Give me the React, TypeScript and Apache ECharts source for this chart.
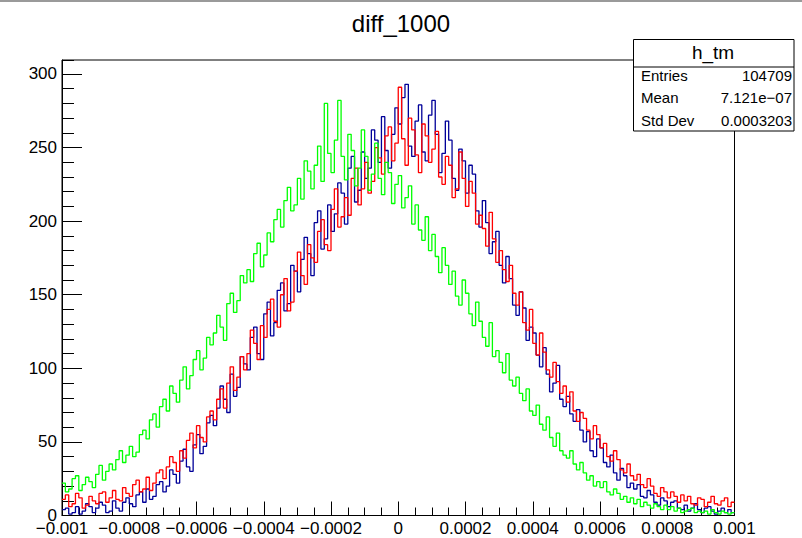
import React, { useEffect, useRef } from "react";
import * as echarts from "echarts";

// ---- binning / axis values ----
const xMin = -0.001;
const xMax = 0.001;
const binWidth = 0.00001;
const xTickStep = 0.0002;
const yMin = 0;
const yMax = 309.5;
const yTickStep = 50;
const yMinorStep = 10;

const histTitle = "diff_1000";
const statsName = "h_tm";
const statsLabels = ["Entries", "Mean", "Std Dev"];
const statsValues = ["104709", "7.121e\u221207", "0.0003203"];

// ---- bin contents (200 bins, left to right) ----
const blueCounts = [
  4, 5, 1, 2, 6, 1, 3, 8, 6, 2,
  5, 9, 7, 2, 3, 10, 5, 3, 9, 12,
  8, 6, 14, 16, 9, 18, 11, 13, 21, 23,
  16, 20, 31, 28, 22, 37, 45, 33, 30, 48,
  55, 42, 47, 63, 68, 61, 73, 88, 79, 70,
  96, 81, 87, 108, 103, 99, 121, 128, 110, 106,
  137, 145, 122, 131, 153, 158, 139, 144, 170, 166,
  152, 174, 189, 178, 163, 199, 207, 181, 188, 211,
  193, 205, 226, 219, 198, 236, 244, 213, 221, 247,
  229, 236, 262, 255, 240, 271, 248, 236, 259, 277,
  266, 284, 293, 251, 244, 268, 279, 247, 241, 272,
  282, 259, 233, 246, 268, 255, 229, 221, 249, 241,
  219, 238, 232, 207, 196, 214, 199, 178, 186, 193,
  170, 158, 176, 161, 143, 136, 152, 141, 119, 128,
  124, 109, 101, 114, 96, 84, 90, 102, 79, 74,
  81, 69, 64, 72, 58, 50, 57, 44, 40, 52,
  46, 36, 33, 41, 29, 24, 32, 27, 19, 22,
  18, 21, 13, 12, 17, 14, 9, 7, 12, 10,
  6, 9, 10, 5, 4, 7, 3, 5, 8, 4,
  2, 5, 6, 3, 1, 3, 5, 2, 4, 2,
];

const redCounts = [
  11, 14, 6, 8, 15, 12, 5, 7, 13, 10,
  8, 15, 16, 9, 12, 17, 11, 10, 19, 15,
  13, 21, 24, 16, 18, 26, 17, 22, 29, 31,
  25, 33, 40, 36, 30, 44, 39, 51, 56, 46,
  61, 53, 50, 67, 71, 65, 79, 86, 73, 90,
  101, 85, 94, 108, 99, 110, 126, 117, 106, 129,
  121, 140, 147, 132, 128, 150, 161, 139, 145, 166,
  179, 163, 157, 184, 175, 172, 193, 201, 184, 180,
  208, 222, 196, 203, 216, 204, 229, 236, 211, 222,
  240, 219, 227, 250, 243, 232, 258, 264, 241, 253,
  291, 256, 238, 270, 262, 245, 233, 266, 258, 240,
  249, 261, 230, 225, 244, 238, 216, 222, 247, 229,
  210, 227, 219, 198, 204, 195, 183, 206, 188, 172,
  180, 167, 159, 170, 151, 143, 152, 131, 126, 140,
  117, 109, 124, 111, 99, 94, 104, 91, 83, 88,
  77, 84, 71, 64, 70, 66, 58, 52, 61, 55,
  46, 49, 40, 37, 44, 38, 31, 29, 35, 27,
  24, 28, 21, 19, 25, 20, 15, 13, 19, 16,
  12, 16, 13, 9, 14, 10, 13, 8, 7, 12,
  11, 6, 9, 13, 8, 7, 10, 12, 6, 9,
];

const greenCounts = [
  22, 16, 18, 25, 27, 17, 21, 26, 23, 19,
  28, 34, 24, 30, 35, 31, 38, 44, 36, 41,
  47, 40, 43, 55, 58, 52, 65, 69, 60, 74,
  79, 71, 88, 83, 77, 92, 101, 86, 95, 106,
  112, 99, 107, 121, 116, 124, 136, 128, 119, 144,
  151, 138, 146, 163, 158, 167, 159, 178, 185, 169,
  177, 192, 186, 201, 208, 196, 214, 223, 207, 211,
  229, 215, 241, 234, 222, 238, 251, 227, 280, 246,
  233, 255, 282, 244, 228, 259, 248, 224, 236, 262,
  244, 221, 232, 253, 229, 218, 240, 233, 212, 225,
  231, 209, 216, 224, 198, 211, 194, 187, 203, 180,
  191, 176, 165, 182, 170, 157, 166, 149, 143, 160,
  151, 137, 129, 145, 132, 121, 115, 131, 108, 112,
  104, 97, 110, 92, 88, 94, 83, 78, 86, 71,
  68, 75, 62, 58, 67, 53, 47, 56, 44, 41,
  39, 44, 35, 31, 36, 29, 24, 27, 20, 23,
  19, 23, 16, 14, 18, 15, 11, 13, 9, 12,
  8, 11, 6, 9, 7, 5, 8, 6, 4, 7,
  4, 6, 3, 5, 2, 3, 4, 5, 2, 3,
  2, 3, 1, 4, 2, 1, 3, 2, 1, 2,
];

const FONT = "'Liberation Sans', Arial, Helvetica, sans-serif";

function toSteps(counts: number[]): number[][] {
  const pts = counts.map((c, i) => [xMin + i * binWidth, c]);
  pts.push([xMax, counts[counts.length - 1]]);
  return pts;
}

function fmtX(v: number): string {
  const s = Number(v.toFixed(6)).toString();
  return s === "-0" ? "0" : s.replace("-", "\u2212");
}

function histSeries(name: string, counts: number[], color: string) {
  return {
    name,
    type: "line",
    step: "end",
    showSymbol: false,
    symbol: "none",
    data: toSteps(counts),
    lineStyle: { color, width: 1.3 },
    itemStyle: { color },
    silent: true,
  };
}

export default function App() {
  const ref = useRef<HTMLDivElement>(null);

  useEffect(() => {
    document.body.style.margin = "0";
    if (!ref.current) return;
    const chart = echarts.init(ref.current, undefined, { renderer: "svg" });

    const axisBlack = { color: "#000", width: 1 };

    const option: any = {
      animation: false,
      backgroundColor: "#ffffff",
      grid: {
        left: 62,
        right: 67.5,
        top: 60,
        bottom: 22.5,
        show: true,
        borderColor: "#000",
        borderWidth: 1,
        backgroundColor: "transparent",
      },
      xAxis: {
        type: "value",
        min: xMin,
        max: xMax,
        interval: xTickStep,
        axisLine: { show: true, onZero: false, lineStyle: axisBlack },
        axisTick: { show: true, inside: true, length: 14, lineStyle: axisBlack },
        minorTick: { show: true, splitNumber: 4, length: 8, lineStyle: axisBlack },
        splitLine: { show: false },
        minorSplitLine: { show: false },
        axisLabel: {
          formatter: fmtX,
          color: "#000",
          fontSize: 17,
          fontFamily: FONT,
          margin: 4,
        },
      },
      yAxis: [
        {
          type: "value",
          position: "left",
          min: yMin,
          max: yMax,
          interval: yTickStep,
          axisLine: { show: true, onZero: false, lineStyle: axisBlack },
          axisTick: { show: true, inside: true, length: 20, lineStyle: axisBlack },
          splitLine: { show: false },
          axisLabel: {
            showMaxLabel: false,
            color: "#000",
            fontSize: 17,
            fontFamily: FONT,
            margin: 5,
          },
        },
        {
          type: "value",
          position: "left",
          offset: 0,
          min: yMin,
          max: yMax,
          interval: yMinorStep,
          axisLine: { show: false, onZero: false },
          axisTick: { show: true, inside: true, length: 12, lineStyle: axisBlack },
          splitLine: { show: false },
          axisLabel: { show: false },
        },
      ],
      series: [
        histSeries("h_tm", blueCounts, "#000099"),
        histSeries("red", redCounts, "#ff0000"),
        histSeries("green", greenCounts, "#00ff00"),
      ],
      graphic: [
        {
          type: "rect",
          z: 100,
          shape: { x: 0, y: 0, width: 802, height: 2 },
          style: { fill: "#9a9a9a" },
        },
        {
          type: "text",
          z: 100,
          x: 401,
          y: 23,
          style: {
            text: histTitle,
            fontSize: 24,
            fontFamily: FONT,
            fill: "#000",
            align: "center",
            verticalAlign: "middle",
          },
        },
        {
          type: "rect",
          z: 100,
          shape: { x: 633.5, y: 39.5, width: 160.5, height: 91.5 },
          style: { fill: "#fff", stroke: "#000", lineWidth: 1 },
        },
        {
          type: "line",
          z: 101,
          shape: { x1: 633.5, y1: 67, x2: 794, y2: 67 },
          style: { stroke: "#000", lineWidth: 1 },
        },
        {
          type: "text",
          z: 101,
          x: 713,
          y: 52,
          style: {
            text: statsName,
            fontSize: 19,
            fontFamily: FONT,
            fill: "#000",
            align: "center",
            verticalAlign: "middle",
          },
        },
        ...statsLabels.map((t, i) => ({
          type: "text",
          z: 101,
          x: 641,
          y: 75 + i * 22.8,
          style: {
            text: t,
            fontSize: 15,
            fontFamily: FONT,
            fill: "#000",
            align: "left",
            verticalAlign: "middle",
          },
        })),
        ...statsValues.map((t, i) => ({
          type: "text",
          z: 101,
          x: 792,
          y: 75 + i * 22.8,
          style: {
            text: t,
            fontSize: 15,
            fontFamily: FONT,
            fill: "#000",
            align: "right",
            verticalAlign: "middle",
          },
        })),
      ],
    };

    chart.setOption(option);
    return () => chart.dispose();
  }, []);

  return (
    <div
      ref={ref}
      style={{ position: "absolute", left: 0, top: 0, width: 802, height: 538, background: "#fff" }}
    />
  );
}
